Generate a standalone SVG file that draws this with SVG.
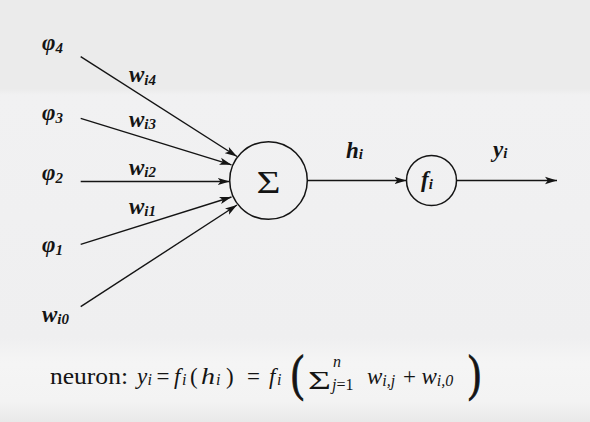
<svg xmlns="http://www.w3.org/2000/svg" width="590" height="422" viewBox="0 0 590 422">
<style>
.ink{fill:#141414;font-family:"Liberation Serif","Times New Roman",serif}
.lab{font-style:italic;font-weight:bold;font-size:23px}
.sub{font-size:15px}
.fm{font-size:23px}
.fs{font-size:16px}
.it{font-style:italic}
.edge{stroke:#141414;stroke-width:1.4;fill:none}
.node{stroke:#141414;stroke-width:1.5;fill:none}
.big{stroke:#141414;stroke-width:0.9}
</style>
<defs>
<marker id="ah" markerUnits="userSpaceOnUse" markerWidth="13" markerHeight="9" refX="12" refY="4.5" orient="auto">
<path d="M0,0.8 L12,4.5 L0,8.2 L2.8,4.5 Z" fill="#141414"/>
</marker>
<linearGradient id="bg" x1="0" y1="0" x2="0" y2="1">
<stop offset="0" stop-color="#ebebeb"/>
<stop offset="0.21" stop-color="#ebebeb"/>
<stop offset="0.225" stop-color="#f1f1f2"/>
<stop offset="0.8" stop-color="#efeff0"/>
<stop offset="0.86" stop-color="#f5f5f5"/>
<stop offset="0.95" stop-color="#f3f3f3"/>
<stop offset="1" stop-color="#e9e9e9"/>
</linearGradient>
</defs>
<rect width="590" height="422" fill="url(#bg)"/>

<g id="connectors">
<path class="edge" d="M80.7,56.7 L237,156.5" marker-end="url(#ah)"/>
<path class="edge" d="M80.7,118.3 L231.5,164.8" marker-end="url(#ah)"/>
<path class="edge" d="M80.7,181.5 L229.7,181.5" marker-end="url(#ah)"/>
<path class="edge" d="M80.7,244.3 L231.5,197" marker-end="url(#ah)"/>
<path class="edge" d="M80.7,306.7 L237,205" marker-end="url(#ah)"/>
<path class="edge" d="M307.3,180.5 L406.5,180.5" marker-end="url(#ah)"/>
<path class="edge" d="M456.5,180.5 L557,180.5" marker-end="url(#ah)"/>
<text class="ink lab" x="129" y="81.5">w<tspan class="sub" dy="3">i4</tspan></text>
<text class="ink lab" x="129" y="126.5">w<tspan class="sub" dy="2.5">i3</tspan></text>
<text class="ink lab" x="129" y="174.5">w<tspan class="sub" dy="2.5">i2</tspan></text>
<text class="ink lab" x="129" y="213.5">w<tspan class="sub" dy="2.5">i1</tspan></text>
<text class="ink lab" x="346" y="158">h<tspan class="sub" dy="1">i</tspan></text>
<text class="ink lab" x="493" y="157">y<tspan class="sub" dy="1">i</tspan></text>
</g>

<g id="phi4"><text class="ink lab" x="42" y="49.5">φ<tspan class="sub" dy="3">4</tspan></text></g>
<g id="phi3"><text class="ink lab" x="42" y="119.5">φ<tspan class="sub" dy="3">3</tspan></text></g>
<g id="phi2"><text class="ink lab" x="42" y="179.5">φ<tspan class="sub" dy="3">2</tspan></text></g>
<g id="phi1"><text class="ink lab" x="42" y="251.5">φ<tspan class="sub" dy="3">1</tspan></text></g>
<g id="wi0"><text class="ink lab" x="42" y="321.5">w<tspan class="sub" dy="2.5">i0</tspan></text></g>

<g id="sum">
<circle class="node" cx="268.5" cy="180.5" r="38.8"/>
<text class="ink" x="256.5" y="192.5" font-size="32" textLength="24" lengthAdjust="spacingAndGlyphs">Σ</text>
</g>

<g id="fi">
<circle class="node" cx="431.5" cy="180.5" r="25"/>
<text class="ink lab" x="421" y="187">f<tspan class="sub" dy="1.5">i</tspan></text>
</g>

<g id="formula" class="ink fm">
<text x="50" y="383.5" textLength="78" lengthAdjust="spacingAndGlyphs">neuron:</text>
<text class="it" x="137" y="383.5">y</text>
<text class="it fs" x="147.5" y="385">i</text>
<text x="156.5" y="383.5">=</text>
<text class="it" x="174" y="383.5">f</text>
<text class="it fs" x="182" y="385">i</text>
<text x="190" y="383.5">(</text>
<text class="it" x="201" y="383.5" textLength="14" lengthAdjust="spacingAndGlyphs">h</text>
<text class="it fs" x="216" y="385">i</text>
<text x="226" y="383.5">)</text>
<text x="247" y="383.5">=</text>
<text class="it" x="269" y="383.5">f</text>
<text class="it fs" x="277" y="385">i</text>
<text class="big" x="291" y="390" font-size="50" textLength="13" lengthAdjust="spacingAndGlyphs">(</text>
<text x="308" y="389" font-size="25" textLength="23" lengthAdjust="spacingAndGlyphs">Σ</text>
<text class="it fs" x="333" y="367">n</text>
<text class="fs" x="332" y="390"><tspan class="it">j</tspan>=1</text>
<text class="it" x="367" y="383.5">w<tspan class="fs" dy="2.5">i,j</tspan></text>
<text x="403" y="383.5">+</text>
<text class="it" x="421.5" y="383.5">w<tspan class="fs" dy="2.5">i,0</tspan></text>
<text class="big" x="468" y="390" font-size="50" textLength="13" lengthAdjust="spacingAndGlyphs">)</text>
</g>
</svg>
